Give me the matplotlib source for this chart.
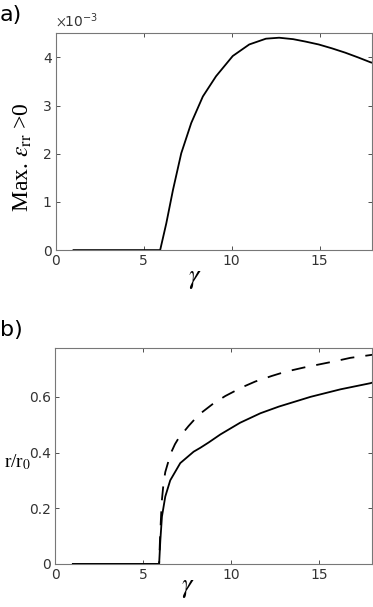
import matplotlib
matplotlib.use('Agg')
import matplotlib.pyplot as plt

plt.rcParams['mathtext.fontset'] = 'stix'
plt.rcParams['lines.scale_dashes'] = False

# a) max strain (in units of 1e-3) vs gamma
gam_a = [1, 2, 3, 4, 5, 5.93, 6.28, 6.66, 7.13, 7.7, 8.36, 9.11, 10.06, 11.0,
         11.95, 12.7, 13.5, 14.2, 14.95, 15.7, 16.46, 17.2, 17.9, 18]
eps_a = [0, 0, 0, 0, 0, 0, 0.556, 1.25, 2.01, 2.64, 3.19, 3.61, 4.03, 4.27,
         4.39, 4.41, 4.38, 4.33, 4.27, 4.19, 4.10, 4.00, 3.90, 3.89]

# b) r/r0 vs gamma, solid and dashed
gam_s = [1, 2, 3, 4, 5, 5.9, 5.97, 6.06, 6.25, 6.53, 7.1, 7.86, 8.24, 8.71, 9.38,
         10.5, 11.65, 12.7, 14.5, 16.2, 17.9, 18]
r_s = [0, 0, 0, 0, 0, 0, 0.086, 0.17, 0.242, 0.30, 0.362, 0.403, 0.417, 0.436,
       0.465, 0.507, 0.541, 0.565, 0.60, 0.627, 0.649, 0.651]
gam_d = [1, 2, 3, 4, 5, 5.9, 5.95, 6.0, 6.05, 6.15, 6.25, 6.56, 6.8, 7.0, 7.57,
         8.14, 9.0, 9.66, 10.6, 11.36, 12.3, 13.07, 14.1, 14.96, 15.9, 16.76,
         17.9, 18]
r_d = [0, 0, 0, 0, 0, 0, 0.09, 0.158, 0.224, 0.29, 0.33, 0.397, 0.43, 0.451,
       0.495, 0.535, 0.577, 0.603, 0.634, 0.655, 0.675, 0.69, 0.705, 0.716,
       0.728, 0.740, 0.75, 0.751]

fig = plt.figure(figsize=(3.73, 6.07), dpi=100)
ax1 = fig.add_axes([0.150, 0.588, 0.848, 0.357])
ax2 = fig.add_axes([0.148, 0.071, 0.850, 0.356])

serif = 'Liberation Serif'
tickcol = '#333333'

for ax in (ax1, ax2):
    ax.set_xlim(0, 18)
    ax.set_xticks([0, 5, 10, 15])
    ax.tick_params(direction='in', length=3, width=0.6, top=True, right=True,
                   labelsize=10, colors=tickcol, pad=3)
    for sp in ax.spines.values():
        sp.set_color('#777777')
        sp.set_linewidth(0.8)
    ax.set_xlabel(r'$\gamma$', fontsize=19, va='center')

ax1.xaxis.set_label_coords(0.44, -0.129)
ax2.xaxis.set_label_coords(0.418, -0.106)

ax1.plot(gam_a, eps_a, color='k', lw=1.3)
ax1.set_ylim(0, 4.5)
ax1.set_yticks([0, 1, 2, 3, 4])
ax1.set_ylabel(r'Max. $\varepsilon_{\rm rr}$ >0', family=serif, fontsize=17,
               va='center')
ax1.yaxis.set_label_coords(-0.105, 0.43)
ax1.text(0.0, 1.015, r'$\times\mathregular{10^{-3}}$', transform=ax1.transAxes,
         fontsize=10, color=tickcol, va='bottom', ha='left')

ax2.plot(gam_s, r_s, color='k', lw=1.3)
ax2.plot(gam_d, r_d, color='k', lw=1.3, dashes=(10, 8))
ax2.set_ylim(0, 0.776)
ax2.set_yticks([0, 0.2, 0.4, 0.6])
ax2.set_yticklabels(['0', '0.2', '0.4', '0.6'])
ax2.set_ylabel(r'r/r$_{\rm 0}$', family=serif, fontsize=14, rotation=0,
               va='center', ha='center')
ax2.yaxis.set_label_coords(-0.12, 0.47)

fig.text(0.0, 0.975, 'a)', fontsize=16, va='center', ha='left')
fig.text(0.0, 0.457, 'b)', fontsize=16, va='center', ha='left')

fig.savefig('out.png', dpi=100)
